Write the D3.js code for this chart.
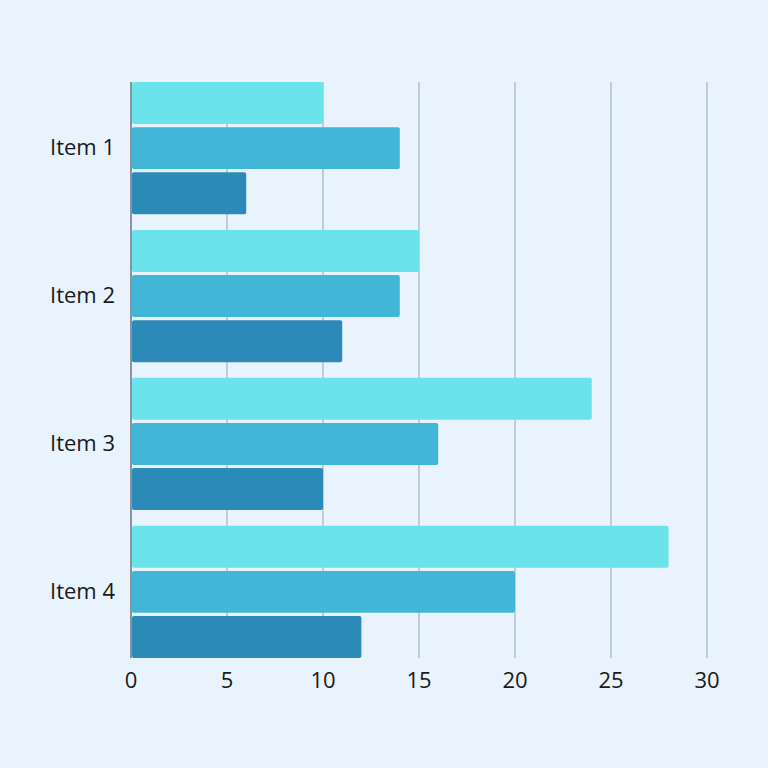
<!DOCTYPE html>
<html><head><meta charset="utf-8">
<script src="https://cdn.jsdelivr.net/npm/d3@7"></script>
<style>html,body{margin:0;padding:0;background:#e8f3fe;}</style>
</head><body>
<svg id="c" width="768" height="768"></svg>
<script>
const categories = ["Item 1","Item 2","Item 3","Item 4"];
const seriesNames = ["Series 1","Series 2","Series 3"];
const series1 = [10, 15, 24, 28];
const series2 = [14, 14, 16, 20];
const series3 = [6, 11, 10, 12];
const xTicks = [0,5,10,15,20,25,30];
const colors = ["#6ae4ea","#42b6d6","#2b8ab8"];

(function(){
const svg = d3.select("#c");
svg.append("rect").attr("width",768).attr("height",768).attr("fill","#e8f3fe");
const pL=131, pR=707, pT=82, pB=658;
const x = d3.scaleLinear().domain([0,30]).range([pL,pR]);
const y0 = d3.scaleBand().domain(categories).range([pT,pB]).paddingInner(0.106).paddingOuter(0);
const y1 = d3.scaleBand().domain(seriesNames).range([0,y0.bandwidth()]).paddingInner(0.07);

const allSeries = [series1, series2, series3];
const font = "'Open Sans', Lato, sans-serif";

svg.append("g").selectAll("line").data(xTicks.filter(d=>d>0)).join("line")
  .attr("x1",d=>x(d)).attr("x2",d=>x(d)).attr("y1",pT).attr("y2",pB)
  .attr("stroke","#b3bfcc").attr("stroke-width",1.5);

const g = svg.append("g");
categories.forEach((c,i)=>{
  allSeries.forEach((s,j)=>{
    g.append("rect")
      .attr("x",x(0)+1).attr("y",y0(c)+y1(seriesNames[j]))
      .attr("width",x(s[i])-x(0)-1).attr("height",y1.bandwidth())
      .attr("rx",2).attr("fill",colors[j]);
  });
});

svg.append("line").attr("x1",pL).attr("x2",pL).attr("y1",pT).attr("y2",pB)
  .attr("stroke","#6b7480").attr("stroke-width",1.5);

svg.append("g").selectAll("text").data(xTicks).join("text")
  .attr("x",d=>x(d)).attr("y",679).attr("text-anchor","middle").attr("dominant-baseline","central")
  .attr("font-family",font).attr("font-size",22).attr("fill","#1a1a1a").text(d=>d);

svg.append("g").selectAll("text").data(categories).join("text")
  .attr("x",115).attr("y",d=>y0(d)+y0.bandwidth()/2-2).attr("text-anchor","end").attr("dominant-baseline","central")
  .attr("font-family",font).attr("font-size",22).attr("fill","#1a1a1a").text(d=>d);
})();
</script>
</body></html>
